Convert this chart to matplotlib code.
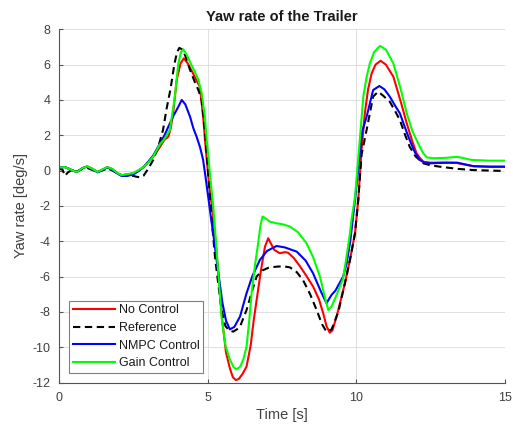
import matplotlib
matplotlib.use("Agg")
import matplotlib.pyplot as plt

plt.rcParams['font.family'] = ['Liberation Sans', 'DejaVu Sans']
plt.rcParams['axes.unicode_minus'] = False

# ---- series data: time [s] and yaw rate [deg/s] ----
t_none = [0, 0.2, 0.4, 0.6, 0.8, 0.95, 1.1, 1.3, 1.45, 1.63, 1.8, 1.95, 2.1, 2.3, 2.5, 2.7, 2.85, 3.0,
          3.17, 3.3, 3.4, 3.55, 3.68, 3.76, 3.84, 3.96, 4.09, 4.2, 4.32, 4.45, 4.6, 4.74, 4.85, 4.94,
          5.05, 5.19, 5.3, 5.4, 5.5, 5.62, 5.75, 5.85, 5.95, 6.05, 6.18, 6.31, 6.45, 6.55, 6.65, 6.8,
          6.93, 7.04, 7.12, 7.25, 7.43, 7.6, 7.71, 7.9, 8.1, 8.3, 8.55, 8.75, 8.89, 9.0, 9.11, 9.2,
          9.35, 9.5, 9.62, 9.79, 9.96, 10.07, 10.18, 10.29, 10.4, 10.52, 10.65, 10.82, 11.0, 11.25,
          11.5, 11.7, 11.9, 12.03, 12.15, 12.26, 12.5, 12.82, 13.38, 13.94, 14.5, 15.0]
y_none = [0.18, 0.2, 0.05, -0.08, 0.15, 0.24, 0.12, -0.08, 0.05, 0.2, 0.08, -0.12, -0.26, -0.22, -0.15, 0.03, 0.2, 0.45,
          0.79, 1.1, 1.35, 1.75, 1.92, 2.4, 3.24, 5.13, 6.07, 6.36, 6.1, 5.7, 5.2, 4.75, 3.05, 1.2,
          -0.8, -2.6, -4.6, -6.6, -8.6, -10.3, -11.2, -11.7, -11.86, -11.8, -11.5, -11.1, -9.9, -8.5, -7.33, -5.6,
          -4.31, -3.83, -4.1, -4.5, -4.68, -4.62, -4.65, -4.95, -5.4, -5.9, -6.57, -7.3, -8.08, -8.8, -9.18, -9.05,
          -8.2, -7.2, -6.38, -5.06, -3.55, -1.66, 1.17, 3.24, 4.6, 5.5, 6.0, 6.22, 6.0, 5.32,
          3.9, 2.68, 1.6, 0.98, 0.7, 0.5, 0.45, 0.45, 0.43, 0.25, 0.22, 0.22]

t_ref = [0, 0.12, 0.2, 0.3, 0.4, 0.6, 0.8, 0.95, 1.1, 1.3, 1.45, 1.63, 1.8, 1.95, 2.1, 2.3, 2.5, 2.61, 2.75,
         2.84, 3.0, 3.17, 3.35, 3.5, 3.62, 3.75, 3.88, 3.97, 4.05, 4.15, 4.25, 4.41, 4.55, 4.69, 4.8, 4.91,
         5.0, 5.07, 5.15, 5.25, 5.35, 5.47, 5.6, 5.72, 5.86, 5.98, 6.09, 6.31, 6.5, 6.65, 6.85, 7.05, 7.32,
         7.55, 7.77, 8.0, 8.21, 8.45, 8.67, 8.85, 9.0, 9.17, 9.4, 9.62, 9.79, 9.96, 10.07, 10.18, 10.35,
         10.57, 10.74, 10.9, 11.13, 11.3, 11.47, 11.65, 11.8, 12.0, 12.26, 12.5, 12.82, 13.4, 13.94, 14.5, 15.0]
y_ref = [0.1, 0.05, -0.3, -0.1, 0.0, -0.05, 0.1, 0.15, 0.05, -0.08, 0.0, 0.12, 0.0, -0.15, -0.25, -0.3, -0.3, -0.35, -0.38,
         -0.3, 0.1, 0.6, 1.4, 2.3, 3.5, 4.6, 6.0, 6.7, 6.95, 6.85, 6.5, 5.7, 5.1, 4.56, 4.0, 2.3,
         0.3, -1.3, -3.0, -4.9, -6.3, -7.9, -8.8, -9.05, -9.12, -9.0, -8.84, -7.9, -6.8, -6.0, -5.65, -5.5, -5.44,
         -5.42, -5.48, -5.75, -6.2, -7.0, -7.9, -8.7, -9.12, -9.0, -8.0, -6.38, -5.06, -3.55, -1.66, 0.9, 2.3,
         4.19, 4.47, 4.25, 3.9, 3.4, 2.86, 2.0, 1.35, 0.8, 0.41, 0.3, 0.22, 0.1, 0.03, 0.0, -0.02]

t_nmpc = [0, 0.2, 0.4, 0.6, 0.8, 0.95, 1.1, 1.3, 1.45, 1.63, 1.8, 1.95, 2.1, 2.3, 2.5, 2.7, 2.85, 3.0,
          3.17, 3.4, 3.55, 3.68, 3.85, 4.01, 4.13, 4.25, 4.41, 4.52, 4.63, 4.75, 4.85, 4.95, 5.02, 5.1,
          5.2, 5.36, 5.5, 5.62, 5.75, 5.9, 6.09, 6.31, 6.5, 6.76, 7.0, 7.32, 7.6, 8.0, 8.3, 8.55, 8.8,
          9.0, 9.17, 9.3, 9.56, 9.68, 9.8, 9.96, 10.1, 10.2, 10.35, 10.57, 10.78, 10.95, 11.13, 11.3,
          11.47, 11.65, 11.8, 11.97, 12.14, 12.3, 12.48, 13.0, 13.4, 13.94, 14.5, 15.0]
y_nmpc = [0.18, 0.2, 0.05, -0.08, 0.15, 0.22, 0.1, -0.1, 0.03, 0.18, 0.05, -0.15, -0.3, -0.3, -0.22, 0.0, 0.22, 0.5,
          0.85, 1.54, 2.0, 2.49, 3.1, 3.6, 4.0, 3.75, 3.05, 2.4, 1.92, 1.3, 0.6, -0.6, -1.48, -2.5,
          -3.7, -5.8, -7.5, -8.5, -8.99, -8.85, -8.27, -6.95, -6.0, -5.06, -4.55, -4.27, -4.35, -4.59, -5.1, -5.82, -6.8,
          -7.51, -7.04, -6.8, -6.0, -5.25, -4.0, -1.66, 0.6, 2.2, 3.05, 4.56, 4.79, 4.6, 4.19, 3.7,
          3.24, 2.4, 1.73, 1.05, 0.6, 0.45, 0.41, 0.45, 0.45, 0.25, 0.22, 0.22]

t_gain = [0, 0.2, 0.4, 0.6, 0.8, 0.95, 1.1, 1.3, 1.45, 1.63, 1.8, 1.95, 2.1, 2.3, 2.5, 2.7, 2.85, 3.0,
          3.17, 3.3, 3.4, 3.55, 3.73, 3.9, 4.01, 4.1, 4.18, 4.3, 4.45, 4.57, 4.69, 4.8, 4.91, 4.97, 5.08,
          5.19, 5.28, 5.36, 5.47, 5.6, 5.75, 5.88, 5.98, 6.1, 6.2, 6.31, 6.4, 6.48, 6.6, 6.7, 6.78, 6.85,
          6.95, 7.1, 7.32, 7.55, 7.77, 8.05, 8.33, 8.55, 8.78, 8.95, 9.06, 9.17, 9.35, 9.56, 9.7, 9.79,
          9.85, 9.96, 10.1, 10.24, 10.35, 10.46, 10.6, 10.8, 11.0, 11.25, 11.5, 11.7, 11.9, 12.03, 12.14,
          12.25, 12.37, 12.6, 13.0, 13.4, 13.9, 14.5, 15.0]
y_gain = [0.18, 0.2, 0.05, -0.08, 0.15, 0.24, 0.12, -0.08, 0.05, 0.2, 0.08, -0.12, -0.26, -0.2, -0.14, 0.05, 0.22, 0.45,
          0.8, 1.2, 1.5, 1.8, 2.3, 4.2, 6.0, 6.7, 6.87, 6.55, 6.0, 5.6, 5.13, 4.4, 3.0, 1.73, -0.2,
          -2.04, -4.0, -5.8, -8.3, -9.9, -10.7, -11.15, -11.25, -11.1, -10.7, -9.97, -8.5, -6.95, -5.3, -4.12, -3.1, -2.6,
          -2.7, -2.9, -2.98, -3.05, -3.17, -3.5, -4.12, -4.9, -6.0, -7.2, -7.89, -7.7, -7.0, -6.1, -4.6, -3.55,
          -2.7, -1.5, 1.3, 4.19, 5.3, 6.07, 6.7, 7.06, 6.85, 6.07, 4.6, 3.24, 2.2, 1.73, 1.35,
          1.0, 0.75, 0.7, 0.72, 0.78, 0.6, 0.56, 0.56]

x_ticks = [0, 5, 10, 15]
y_ticks = [-12, -10, -8, -6, -4, -2, 0, 2, 4, 6, 8]

fig = plt.figure(figsize=(5.13, 4.28), dpi=100)
ax = fig.add_axes([0.115, 0.1063, 0.869, 0.8252])

ax.plot(t_none, y_none, color='#ff0000', lw=1.5, label='No Control', solid_joinstyle='round')
ax.plot(t_ref, y_ref, color='black', lw=1.5, ls=(0, (3.5, 2.2)), label='Reference')
ax.plot(t_nmpc, y_nmpc, color='#0000ff', lw=1.5, label='NMPC Control', solid_joinstyle='round')
ax.plot(t_gain, y_gain, color='#00ff00', lw=1.5, label='Gain Control', solid_joinstyle='round')

ax.set_xlim(0, 15)
ax.set_ylim(-12, 8)
ax.set_xticks(x_ticks)
ax.set_yticks(y_ticks)
ax.grid(True, color='#dedede', lw=0.7)
ax.set_axisbelow(True)

for s in ('top', 'right'):
    ax.spines[s].set_visible(False)
for s in ('left', 'bottom'):
    ax.spines[s].set_color('#555555')
    ax.spines[s].set_linewidth(0.8)
ax.tick_params(direction='in', length=3, width=0.8, colors='#555555',
               labelcolor='#404040', labelsize=9)
ax.tick_params(axis='x', pad=7)
ax.tick_params(axis='y', pad=6)

ax.set_title('Yaw rate of the Trailer', fontsize=10.5, fontweight='bold', color='#1a1a1a', pad=6)
ax.set_xlabel('Time [s]', fontsize=10.5, color='#404040', labelpad=3)
ax.set_ylabel('Yaw rate [deg/s]', fontsize=10.5, color='#404040', labelpad=3)

leg = ax.legend(loc='lower left', bbox_to_anchor=(0.022, 0.027), borderaxespad=0,
                fontsize=9, handlelength=3.4, labelspacing=0.45, handletextpad=0.3,
                borderpad=0.3, fancybox=False, framealpha=1)
leg.get_frame().set_edgecolor('#808080')
leg.get_frame().set_linewidth(0.8)
for txt in leg.get_texts():
    txt.set_color('#1a1a1a')

fig.savefig('out.png', dpi=100)
